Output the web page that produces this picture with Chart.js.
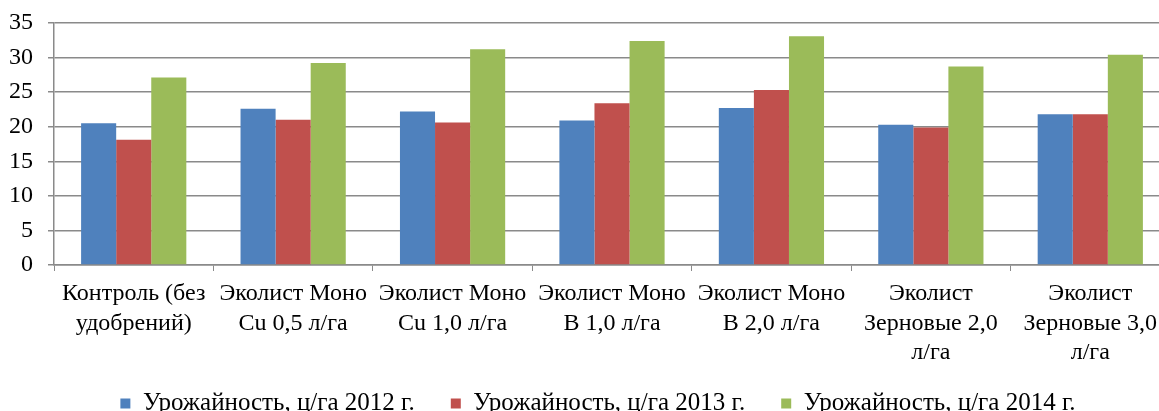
<!DOCTYPE html>
<html lang="ru">
<head>
    <meta charset="UTF-8">
    <title>Урожайность</title>
    <style>
        html, body { margin: 0; padding: 0; background: #fff; overflow: hidden; }
        .wrap { position: relative; width: 1159px; height: 411px; overflow: hidden; }
        #chart { position: absolute; left: 0; top: 0; }
    </style>
</head>
<body>
    <div class="wrap">
        <canvas id="chart" width="1172" height="411"></canvas>
    </div>

    <script src="https://cdn.jsdelivr.net/npm/chart.js"></script>
    <script>
        const categories = [
            ['Контроль (без', 'удобрений)'],
            ['Эколист Моно', 'Cu 0,5 л/га'],
            ['Эколист Моно', 'Cu 1,0 л/га'],
            ['Эколист Моно', 'В 1,0 л/га'],
            ['Эколист Моно', 'В 2,0 л/га'],
            ['Эколист', 'Зерновые 2,0', 'л/га'],
            ['Эколист', 'Зерновые 3,0', 'л/га']
        ];
        const seriesNames = ['Урожайность, ц/га 2012 г.', 'Урожайность, ц/га 2013 г.', 'Урожайность, ц/га 2014 г.'];
        const yield2012 = [20.5, 22.6, 22.2, 20.9, 22.7, 20.3, 21.8];
        const yield2013 = [18.1, 21.0, 20.6, 23.4, 25.3, 19.9, 21.8];
        const yield2014 = [27.1, 29.2, 31.2, 32.4, 33.1, 28.7, 30.4];
        const yTicks = [0, 5, 10, 15, 20, 25, 30, 35];

        const colors = ['#4F81BD', '#C0504D', '#9BBB59'];
        const font = 'Liberation Serif, Times New Roman, serif';
        const gridColor = '#8a8a8a';

        // legend: centred on the visible page (canvas is a bit wider) and lifted
        // back up, because the bottom padding is negative to let the tick labels breathe
        const legendShift = {
            id: 'legendShift',
            afterLayout(chart) {
                const lg = chart.legend;
                lg.left += 13;
                lg.right += 13;
                lg.top -= 18;
                lg.bottom -= 18;
            }
        };

        const ctx = document.getElementById('chart').getContext('2d');
        new Chart(ctx, {
            type: 'bar',
            data: {
                labels: categories,
                datasets: [yield2012, yield2013, yield2014].map((d, i) => ({
                    label: seriesNames[i],
                    data: d,
                    backgroundColor: colors[i],
                    borderWidth: 0,
                    barPercentage: 1,
                    categoryPercentage: 0.66
                }))
            },
            options: {
                responsive: false,
                animation: false,
                layout: { padding: { top: 23, right: 2, left: 0, bottom: -33 } },
                plugins: {
                    tooltip: { enabled: false },
                    legend: {
                        position: 'bottom',
                        labels: {
                            boxWidth: 10,
                            boxHeight: 10,
                            padding: 36,
                            color: '#000',
                            font: { family: font, size: 25 }
                        }
                    }
                },
                scales: {
                    x: {
                        grid: {
                            drawOnChartArea: false,
                            offset: true,
                            tickLength: 6,
                            color: gridColor
                        },
                        border: { color: gridColor, width: 1.5 },
                        ticks: {
                            color: '#000',
                            padding: 8,
                            maxRotation: 0,
                            autoSkip: false,
                            font: { family: font, size: 24, lineHeight: 1.23 }
                        },
                        afterFit(scale) {
                            scale.height = 108;
                            scale.paddingLeft = 0;
                            scale.paddingRight = 0;
                        }
                    },
                    y: {
                        min: 0,
                        max: 35,
                        afterBuildTicks(scale) { scale.ticks = yTicks.map(v => ({ value: v })); },
                        grid: { color: gridColor, lineWidth: 1.5, tickLength: 6 },
                        border: { color: gridColor, width: 1.5 },
                        ticks: {
                            color: '#000',
                            padding: 15,
                            font: { family: font, size: 24 }
                        },
                        afterFit(scale) {
                            scale.width = 54;
                            scale.paddingTop = 0;
                            scale.paddingBottom = 0;
                        }
                    }
                }
            },
            plugins: [legendShift]
        });
    </script>
</body>
</html>
